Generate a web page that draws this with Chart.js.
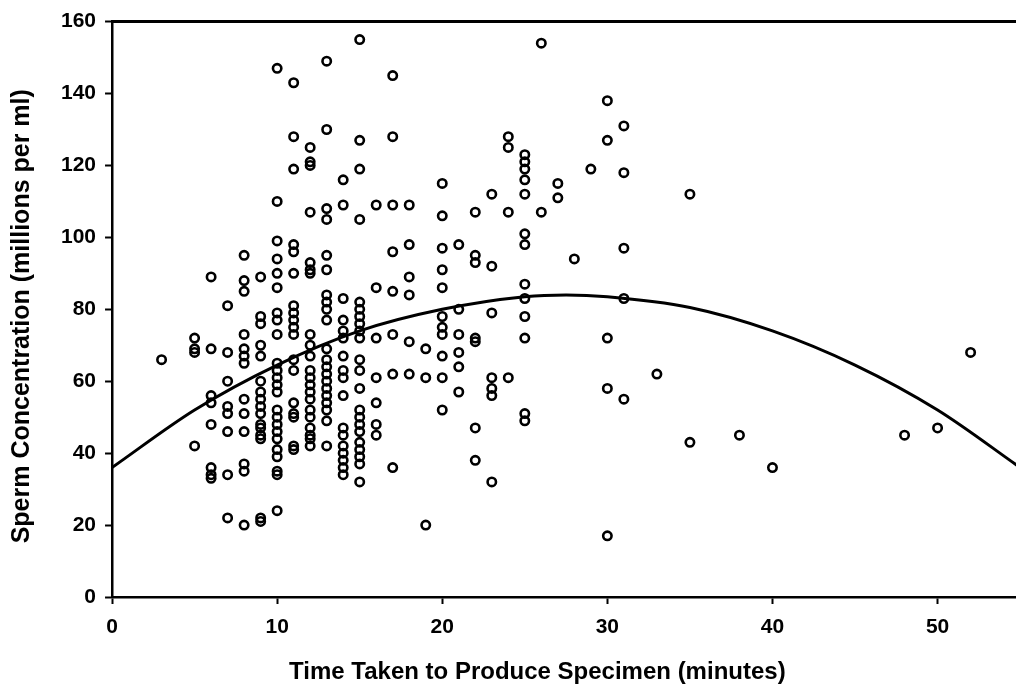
<!DOCTYPE html>
<html>
<head>
<meta charset="utf-8">
<title>Sperm concentration vs time taken</title>
<script src="https://cdn.jsdelivr.net/npm/chart.js@4.4.1/dist/chart.umd.min.js"></script>
<style>
  html, body { margin: 0; padding: 0; background: #fff; }
  #wrap { width: 1016px; height: 692px; }
</style>
</head>
<body>
<div id="wrap"><canvas id="chart" width="1016" height="692"></canvas></div>
<script>
// minutes taken (one entry per column of points)
const times = [3, 5, 6, 7, 8, 9, 10, 11, 12, 13, 14, 15, 16, 17, 18, 19, 20, 21, 22, 23, 24, 25, 26, 27, 28, 29, 30, 31, 33, 35, 38, 40, 48, 50, 52];

// concentration readings (millions per ml) for each time above
const concentrations = [
  [66],
  [72, 69, 68, 42],
  [89, 69, 56, 54, 48, 36, 34, 33],
  [81, 68, 60, 53, 51, 46, 34, 22],
  [95, 88, 85, 73, 69, 67, 65, 55, 51, 46, 37, 35, 20],
  [89, 78, 76, 70, 67, 60, 57, 55, 53, 51, 48, 47, 45, 44, 22, 21],
  [147, 110, 99, 94, 90, 86, 79, 77, 73, 65, 63, 61, 59, 57, 52, 50, 48, 46, 44, 41, 39, 35, 34, 24],
  [143, 128, 119, 98, 96, 90, 81, 79, 77, 75, 73, 66, 63, 54, 51, 50, 42, 41],
  [125, 121, 120, 107, 93, 91, 90, 73, 70, 67, 63, 61, 59, 57, 55, 52, 50, 47, 45, 44, 42],
  [149, 130, 108, 105, 95, 91, 84, 82, 80, 77, 69, 66, 64, 62, 60, 58, 56, 54, 52, 49, 42],
  [116, 109, 83, 77, 74, 72, 67, 63, 61, 56, 47, 45, 42, 40, 38, 36, 34],
  [155, 127, 119, 105, 82, 80, 78, 76, 74, 72, 66, 63, 58, 52, 50, 48, 46, 43, 41, 39, 37, 32],
  [109, 86, 72, 61, 54, 48, 45],
  [145, 128, 109, 96, 85, 73, 62, 36],
  [109, 98, 89, 84, 71, 62],
  [69, 61, 20],
  [115, 106, 97, 91, 86, 78, 75, 73, 67, 61, 52],
  [98, 80, 73, 68, 64, 57],
  [107, 95, 93, 72, 71, 47, 38],
  [112, 92, 79, 61, 58, 56, 32],
  [128, 125, 107, 61],
  [123, 121, 119, 116, 112, 101, 98, 87, 83, 78, 72, 51, 49],
  [154, 107],
  [115, 111],
  [94],
  [119],
  [138, 127, 72, 58, 17],
  [131, 118, 97, 83, 55],
  [62],
  [112, 43],
  [45],
  [36],
  [45],
  [47],
  [68]
];

// fitted curve
const fitTimes = [0, 5, 10, 15, 20, 25, 27.5, 30, 35, 40, 45, 50, 55];
const fitValues = [36, 52, 64.5, 74, 80, 83.5, 84, 83.5, 80.5, 74, 64.5, 52, 36];

const xTicks = [0, 10, 20, 30, 40, 50];
const yTicks = [0, 20, 40, 60, 80, 100, 120, 140, 160];

const points = [];
times.forEach((t, i) => {
  concentrations[i].forEach(c => points.push({ x: t, y: c }));
});
const fitPoints = fitTimes.map((t, i) => ({ x: t, y: fitValues[i] }));

// the original titles sit a little off the plot centre, trailing spaces nudge them
const nb = n => '\u00a0'.repeat(n);

Chart.defaults.font.family = "'Liberation Sans', Arial, Helvetica, sans-serif";
Chart.defaults.color = '#000';

const ctx = document.getElementById('chart').getContext('2d');
new Chart(ctx, {
  type: 'scatter',
  data: {
    datasets: [
      {
        label: 'Fitted curve',
        data: fitPoints,
        showLine: true,
        borderColor: '#000',
        borderWidth: 3,
        pointRadius: 0,
        pointHoverRadius: 0,
        cubicInterpolationMode: 'monotone',
        fill: false
      },
      {
        label: 'Specimens',
        data: points,
        pointStyle: 'circle',
        pointRadius: 4.2,
        pointHoverRadius: 4.2,
        borderColor: '#000',
        borderWidth: 2.6,
        backgroundColor: 'rgba(0,0,0,0)'
      }
    ]
  },
  options: {
    responsive: false,
    animation: false,
    layout: { autoPadding: false, padding: { top: 9, right: 0, bottom: 0, left: 0 } },
    plugins: {
      legend: { display: false },
      tooltip: { enabled: false }
    },
    scales: {
      x: {
        type: 'linear',
        position: 'bottom',
        min: 0,
        max: 54.75,
        afterBuildTicks: scale => { scale.ticks = xTicks.map(v => ({ value: v })); },
        ticks: { color: '#000', font: { size: 21, weight: 'bold' }, padding: 11, maxRotation: 0 },
        grid: { drawOnChartArea: false, drawTicks: true, tickLength: 7, tickWidth: 2, tickColor: '#000' },
        border: { color: '#000', width: 2.5 },
        title: {
          display: true,
          text: 'Time Taken to Produce Specimen (minutes)' + nb(8),
          color: '#000',
          font: { size: 24, weight: 'bold' },
          padding: { top: 7, bottom: 5 }
        }
      },
      x2: {
        type: 'linear',
        position: 'top',
        min: 0,
        max: 54.75,
        ticks: { display: false },
        grid: { display: false, drawTicks: false },
        border: { display: true, color: '#000', width: 3 }
      },
      y: {
        min: 0,
        max: 160,
        afterBuildTicks: scale => { scale.ticks = yTicks.map(v => ({ value: v })); },
        ticks: { color: '#000', font: { size: 21, weight: 'bold' }, padding: 9 },
        grid: { drawOnChartArea: false, drawTicks: true, tickLength: 7, tickWidth: 2, tickColor: '#000' },
        border: { color: '#000', width: 2.5 },
        title: {
          display: true,
          text: 'Sperm Concentration (millions per ml)' + nb(2),
          color: '#000',
          font: { size: 25, weight: 'bold' },
          padding: { top: 7, bottom: 15 }
        }
      }
    }
  }
});
</script>
</body>
</html>
